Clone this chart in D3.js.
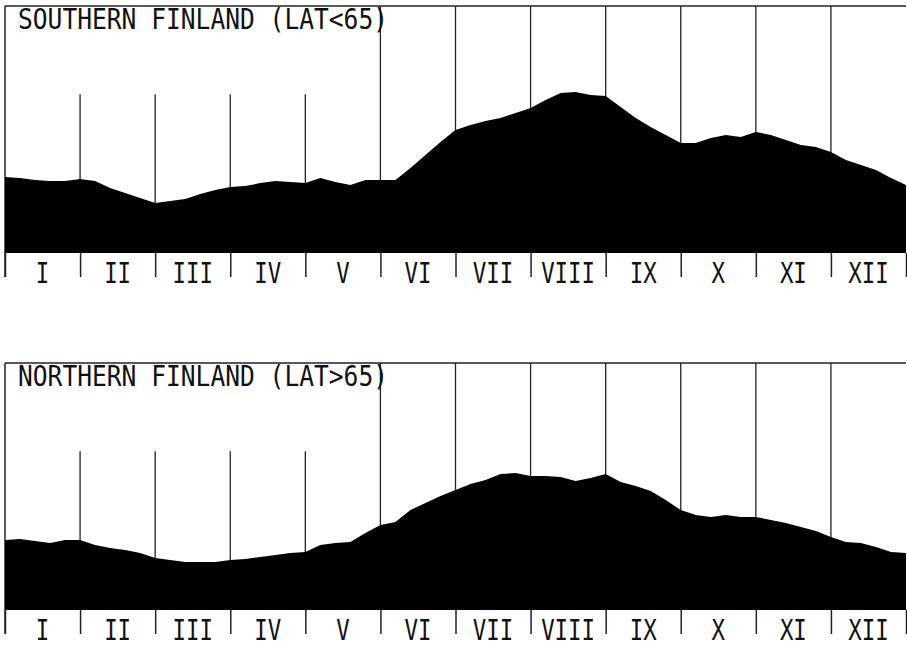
<!DOCTYPE html>
<html>
<head>
<meta charset="utf-8">
<script src="https://cdn.jsdelivr.net/npm/d3@7"></script>
<style>
  body { margin: 0; background: #fff; }
  text { font-family: "DejaVu Sans Mono", monospace; fill: #111; }
</style>
</head>
<body>
<div class="canvas"></div>
<script>
// month labels under the axis
const months = ['I','II','III','IV','V','VI','VII','VIII','IX','X','XI','XII'];

// sample positions, in months from 1 Jan (every 0.2 month)
const pos = d3.range(61).map(i => i / 5);

// relative height of the curve (0 = baseline, 100 = top frame)
const south = [30.6,30.2,29.4,29.0,29.0,29.8,29.0,26.2,24.2,22.2,
  20.2,21.0,21.8,23.8,25.4,26.6,27.0,28.2,29.0,28.6,
  28.2,30.2,28.6,27.4,29.4,29.4,29.4,34.3,39.5,44.8,
  49.6,51.6,53.2,54.4,56.5,58.5,61.7,64.5,64.9,63.7,
  63.3,58.9,54.4,50.8,47.6,44.4,44.4,46.4,47.6,46.8,
  48.8,47.6,45.6,43.5,42.7,40.7,37.5,35.5,33.5,30.2,27.4];

const north = [28.2,28.6,27.8,27.0,28.2,28.2,26.2,25.0,24.2,23.0,
  21.0,20.2,19.4,19.4,19.4,20.2,20.6,21.4,22.2,23.0,
  23.4,26.2,27.0,27.4,31.0,34.3,35.5,40.3,43.1,46.0,
  48.4,50.8,52.4,54.8,55.2,54.0,54.0,53.6,52.0,53.2,
  54.8,51.6,50.0,48.0,44.4,40.3,38.3,37.5,38.3,37.5,
  37.5,36.3,35.1,33.5,31.9,29.4,27.4,27.0,25.4,23.4,23.0];

const titles = ['SOUTHERN FINLAND (LAT<65)', 'NORTHERN FINLAND (LAT>65)'];

const dims = { width: 907, height: 647, panel: 248 };

const svg = d3.select('.canvas')
    .append('svg')
    .attr('width', dims.width)
    .attr('height', dims.height);

const x = d3.scaleLinear().domain([0, 12]).range([5, 906]);
const y = d3.scaleLinear().domain([0, 100]).range([dims.panel, 0]);

const area = d3.area()
    .x((d, i) => x(pos[i]))
    .y0(y(0))
    .y1(d => y(d))
    .curve(d3.curveLinear);

const drawPanel = (top, title, vals) => {
    const g = svg.append('g').attr('transform', `translate(0, ${top})`);

    // frame: top and left edge
    g.append('line')
        .attr('x1', x(0)).attr('x2', x(12))
        .attr('y1', 1).attr('y2', 1)
        .attr('stroke', '#222').attr('stroke-width', 1.5);
    g.append('line')
        .attr('x1', x(0)).attr('x2', x(0))
        .attr('y1', 1).attr('y2', dims.panel + 24)
        .attr('stroke', '#222').attr('stroke-width', 1.5);

    // month dividers (first four start lower)
    g.selectAll('line.div')
        .data(d3.range(1, 12))
        .join('line')
            .attr('class', 'div')
            .attr('x1', d => x(d)).attr('x2', d => x(d))
            .attr('y1', d => d < 5 ? y(64) : 1)
            .attr('y2', y(0))
            .attr('stroke', '#222').attr('stroke-width', 1.3);

    g.append('path')
        .datum(vals)
        .attr('d', area)
        .attr('fill', '#000');

    // axis ticks + labels
    const axis = d3.axisBottom(x)
        .tickValues(d3.range(0, 13))
        .tickSize(24)
        .tickFormat('');
    const ax = g.append('g')
        .attr('transform', `translate(0, ${y(0)})`)
        .call(axis);
    ax.select('.domain').remove();
    ax.selectAll('.tick line').attr('stroke', '#222').attr('stroke-width', 1.5);

    g.selectAll('text.month')
        .data(months)
        .join('text')
            .attr('class', 'month')
            .attr('x', (d, i) => x(i + 0.5))
            .attr('y', y(0) + 30)
            .attr('text-anchor', 'middle')
            .attr('font-size', 29)
            .attr('textLength', d => d.length * 13.5)
            .attr('lengthAdjust', 'spacingAndGlyphs')
            .text(d => d);

    g.append('text')
        .attr('x', 18)
        .attr('y', 24)
        .attr('font-size', 29)
        .attr('textLength', title.length * 14.8)
        .attr('lengthAdjust', 'spacingAndGlyphs')
        .text(title);
};

drawPanel(5, titles[0], south);
drawPanel(362, titles[1], north);
</script>
</body>
</html>
